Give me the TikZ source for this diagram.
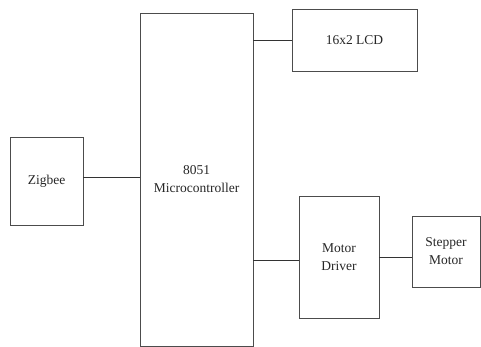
\documentclass[tikz,border=0pt]{standalone}
\usepackage{fontspec}
\setmainfont{Liberation Serif}
\usepackage{tikz}
\usetikzlibrary{positioning}

\begin{document}
\begin{tikzpicture}[x=1pt, y=-1pt,
      blk/.style={draw=black!70, line width=0.9pt, inner sep=0pt,
                  font=\fontsize{13.5}{18}\selectfont, text=black!85, align=center},
      link/.style={draw=black!80, line width=0.9pt}]

    \useasboundingbox (0,0) rectangle (481,347);

    % === blocks ===
    \node[blk, minimum width=113, minimum height=333] (mcu) at (196.5,179.5) {8051\\Microcontroller};
    \node[blk, minimum width=73,  minimum height=88]  (zig) at (46.5,181)   {Zigbee};
    \node[blk, minimum width=125, minimum height=62]  (lcd) at (354.5,40)   {16x2 LCD};
    \node[blk, minimum width=80,  minimum height=122] (drv) at (339,257)    {Motor\\Driver};
    \node[blk, minimum width=68,  minimum height=71]  (stp) at (446,251.5)  {Stepper\\Motor};

    % === links ===
    \draw[link] ([yshift=4pt]zig.east) -- ([yshift=4pt]zig.east -| mcu.west);
    \draw[link] (lcd.west -| mcu.east) -- (lcd.west);
    \draw[link] ([yshift=-3pt]mcu.east |- drv.west) -- ([yshift=-3pt]drv.west);
    \draw[link] (drv.east) -- (drv.east -| stp.west);

\end{tikzpicture}
\end{document}
